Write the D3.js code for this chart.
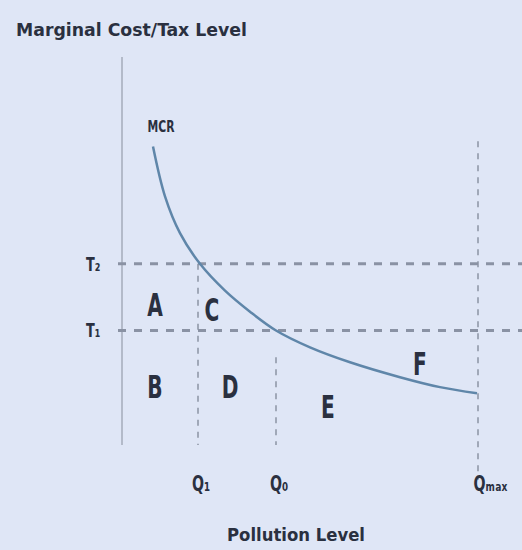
<!DOCTYPE html>
<html>
<head>
<meta charset="utf-8">
<script src="https://cdn.jsdelivr.net/npm/d3@7/dist/d3.min.js"></script>
<style>
  html, body { margin: 0; padding: 0; background: #dfe6f6; }
  svg { display: block; }
  text { font-family: "DejaVu Sans Condensed", "DejaVu Sans", sans-serif; fill: #2a3040; }
</style>
</head>
<body>
<div id="chart"></div>
<script>
// marginal cost of reduction curve (pollution level, cost)
const mcrCurve = [
  [7.75, 76.6], [10.75, 63.6], [14.5, 54.0], [19.5, 46.0], [25.75, 39.0],
  [32.0, 33.5], [38.5, 28.6], [47.0, 24.2], [57.0, 20.3], [69.5, 16.4],
  [79.5, 13.8], [88.75, 12.2]
];
// tax levels
const taxNames = ['T₂', 'T₁'];
const taxValues = [46, 28.6];
// pollution quantities
const qNames = ['Q₁', 'Q₀', 'Qₘₐₓ'];
const qValues = [19, 38.5, 89];
// vertical dashed lines: from value (top) down to 0
const qTops = [46, 21.6, 78];
// region labels
const regionNames = ['A', 'C', 'B', 'D', 'E', 'F'];
const regionX = [8.25, 22.5, 8.25, 27, 51.5, 74.5];
const regionY = [32.5, 31.2, 10.9, 10.9, 5.7, 16.9];

const width = 522, height = 550;
const margin = {top: 57, right: 0, bottom: 110, left: 122};

const svg = d3.select('#chart').append('svg')
  .attr('width', width)
  .attr('height', height);

const x = d3.scaleLinear().domain([0, 100]).range([margin.left, width - margin.right]);
const y = d3.scaleLinear().domain([0, 100]).range([height - margin.bottom, margin.top]);

// narrow bold text, squeezed horizontally
function label(px, py, txt, size, anchor, fill, sx) {
  return svg.append('text')
    .attr('transform', `translate(${px},${py}) scale(${sx},1)`)
    .attr('text-anchor', anchor)
    .attr('font-size', size).attr('font-weight', 'bold')
    .attr('fill', fill)
    .text(txt);
}

// y axis line
svg.append('line')
  .attr('x1', x(0)).attr('x2', x(0))
  .attr('y1', y(100)).attr('y2', y(-1.3))
  .attr('stroke', '#b3bac9').attr('stroke-width', 2);

svg.append('text')
  .attr('x', 16).attr('y', 36)
  .attr('font-size', 17).attr('font-weight', 'bold')
  .attr('fill', '#3a4050')
  .attr('textLength', 231).attr('lengthAdjust', 'spacingAndGlyphs')
  .text('Marginal Cost/Tax Level');

svg.append('text')
  .attr('x', 227).attr('y', 541)
  .attr('font-size', 17).attr('font-weight', 'bold')
  .attr('fill', '#3a4050')
  .attr('textLength', 138).attr('lengthAdjust', 'spacingAndGlyphs')
  .text('Pollution Level');

// vertical dashed lines
svg.selectAll('.qline')
  .data(qValues)
  .enter().append('line')
  .attr('class', 'qline')
  .attr('x1', d => x(d)).attr('x2', d => x(d))
  .attr('y1', (d, i) => y(qTops[i]))
  .attr('y2', (d, i) => i === 2 ? y(-10.4) : y(-1.3))
  .attr('stroke', '#a0a8b8').attr('stroke-width', 2)
  .attr('stroke-dasharray', '6,6');

// horizontal tax lines
svg.selectAll('.tline')
  .data(taxValues)
  .enter().append('line')
  .attr('class', 'tline')
  .attr('x1', x(-1)).attr('x2', width)
  .attr('y1', d => y(d)).attr('y2', d => y(d))
  .attr('stroke', '#8a92a4').attr('stroke-width', 3)
  .attr('stroke-dasharray', '8,8');

// MCR curve
const line = d3.line()
  .x(d => x(d[0]))
  .y(d => y(d[1]))
  .curve(d3.curveCatmullRom);

svg.append('path')
  .datum(mcrCurve)
  .attr('d', line)
  .attr('fill', 'none')
  .attr('stroke', '#5f86a9')
  .attr('stroke-width', 2.5);

label(x(mcrCurve[0][0]) + 8, y(mcrCurve[0][1]) - 15, 'MCR', 15, 'middle', '#4a5060', 0.8);

// tax labels
taxValues.forEach((d, i) => {
  label(86, y(d) + 7, taxNames[i], 19, 'start', '#555b6a', 0.75);
});

// q labels
qValues.forEach((d, i) => {
  label(x(d) + (i === 2 ? 0 : 3), 491, qNames[i], 21, i === 2 ? 'start' : 'middle', '#4a5262', 0.75)
    .attr('x', i === 2 ? -6 : 0);
});

// region letters
regionNames.forEach((d, i) => {
  label(x(regionX[i]), y(regionY[i]), d, 32, 'middle', '#1e2636', 0.7);
});
</script>
</body>
</html>
